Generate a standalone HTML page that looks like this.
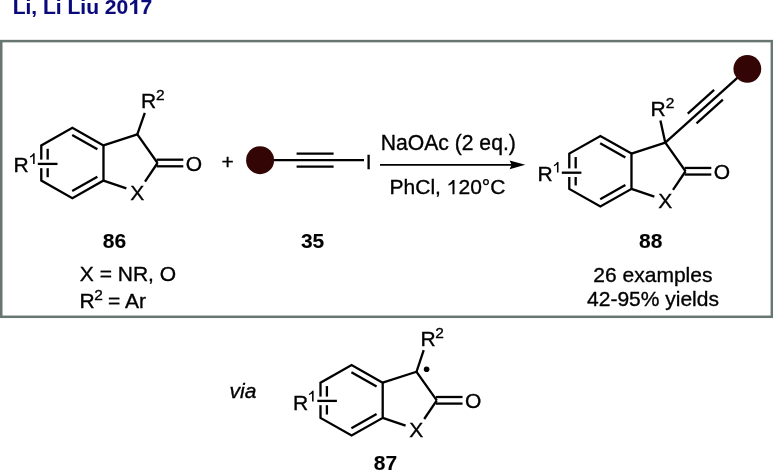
<!DOCTYPE html>
<html><head><meta charset="utf-8"><style>
html,body{margin:0;padding:0;background:#fff;}
body{width:773px;height:471px;overflow:hidden;}
#wrap{will-change:transform;}
svg{display:block;font-family:"Liberation Sans",sans-serif;}
</style></head><body>
<div id="wrap"><svg width="773" height="471" viewBox="0 0 773 471">
<text x="12.70" y="14.05" font-size="21" text-anchor="start" font-weight="bold" font-style="normal" fill="#0a0a7c" stroke="#0a0a7c" stroke-width="0.1">Li, Li Liu 20</text>
<path d="M137.30,-0.60 L137.30,14.05 L134.20,14.05 L134.20,2.92 C133.30,4.23 131.00,4.82 130.00,5.41 L130.00,3.50 C131.50,2.62 133.60,1.16 134.30,-0.60 Z" fill="#0a0a7c"/>
<text x="140.40" y="14.05" font-size="21" text-anchor="start" font-weight="bold" font-style="normal" fill="#0a0a7c" stroke="#0a0a7c" stroke-width="0.1">7</text>
<rect x="1.25" y="41.1" width="770.6" height="275.7" fill="none" stroke="#687672" stroke-width="2.5"/>
<path d="M103.48,145.38 L72.38,127.75 L41.28,145.38 L41.28,180.62 L72.38,198.25 L103.48,180.62 Z" fill="none" stroke="#000" stroke-width="2.3" stroke-linejoin="miter"/>
<line x1="72.18" y1="134.99" x2="97.37" y2="149.27" stroke="#000" stroke-width="2.3" stroke-linecap="butt"/>
<line x1="72.18" y1="191.01" x2="97.37" y2="176.73" stroke="#000" stroke-width="2.3" stroke-linecap="butt"/>
<line x1="47.68" y1="148.78" x2="47.68" y2="177.22" stroke="#000" stroke-width="2.3" stroke-linecap="butt"/>
<path d="M103.48,145.38 L137.30,134.45 L157.55,163.00" fill="none" stroke="#000" stroke-width="2.3" stroke-linejoin="miter"/>
<line x1="157.55" y1="163.00" x2="145.00" y2="181.70" stroke="#000" stroke-width="2.3" stroke-linecap="butt"/>
<line x1="103.48" y1="180.62" x2="126.36" y2="188.30" stroke="#000" stroke-width="2.3" stroke-linecap="butt"/>
<line x1="156.65" y1="159.70" x2="183.30" y2="159.70" stroke="#000" stroke-width="2.3" stroke-linecap="butt"/>
<line x1="156.65" y1="166.30" x2="183.30" y2="166.30" stroke="#000" stroke-width="2.3" stroke-linecap="butt"/>
<text x="193.85" y="171.10" font-size="21" text-anchor="middle" font-weight="normal" font-style="normal" fill="#000" stroke="#000" stroke-width="0.35">O</text>
<text x="137.15" y="199.70" font-size="21" text-anchor="middle" font-weight="normal" font-style="normal" fill="#000" stroke="#000" stroke-width="0.35">X</text>
<line x1="37.80" y1="163.90" x2="57.50" y2="163.90" stroke="#fff" stroke-width="8.6" stroke-linecap="butt"/>
<line x1="37.80" y1="163.90" x2="57.50" y2="163.90" stroke="#000" stroke-width="2.3" stroke-linecap="butt"/>
<text x="13.40" y="172.40" font-size="21" text-anchor="start" font-weight="normal" font-style="normal" fill="#000" stroke="#000" stroke-width="0.35">R</text>
<path d="M34.65,153.20 L34.65,164.10 L33.10,164.10 L33.10,155.82 C32.20,156.80 31.05,157.23 30.05,157.67 L30.05,156.25 C31.55,155.60 32.50,154.51 33.20,153.20 Z" fill="#000"/>
<line x1="137.30" y1="134.45" x2="144.80" y2="112.90" stroke="#000" stroke-width="2.3" stroke-linecap="butt"/>
<text x="140.90" y="108.20" font-size="21" text-anchor="start" font-weight="normal" font-style="normal" fill="#000" stroke="#000" stroke-width="0.35">R</text>
<text x="156.00" y="99.80" font-size="15.5" text-anchor="start" font-weight="normal" font-style="normal" fill="#000" stroke="#000" stroke-width="0.35">2</text>
<text x="221.50" y="168.80" font-size="21" text-anchor="start" font-weight="normal" font-style="normal" fill="#000" stroke="#000" stroke-width="0.35">+</text>
<circle cx="260.10" cy="160.20" r="14" fill="#330505"/>
<line x1="274.00" y1="160.20" x2="364.00" y2="160.20" stroke="#000" stroke-width="2.3" stroke-linecap="butt"/>
<line x1="296.60" y1="153.70" x2="333.60" y2="153.70" stroke="#000" stroke-width="2.3" stroke-linecap="butt"/>
<line x1="296.60" y1="166.70" x2="333.60" y2="166.70" stroke="#000" stroke-width="2.3" stroke-linecap="butt"/>
<text x="368.70" y="168.50" font-size="21" text-anchor="middle" font-weight="normal" font-style="normal" fill="#000" stroke="#000" stroke-width="0.35">I</text>
<line x1="380.00" y1="164.85" x2="512.00" y2="164.85" stroke="#000" stroke-width="1.9" stroke-linecap="butt"/>
<path d="M525.3,164.85 L509.6,160.5 L511.6,164.85 L509.6,169.2 Z" fill="#000"/>
<text x="380.70" y="149.70" font-size="21.15" text-anchor="start" font-weight="normal" font-style="normal" fill="#000" stroke="#000" stroke-width="0.35">NaOAc (2 eq.)</text>
<text x="389.60" y="194.20" font-size="21" text-anchor="start" font-weight="normal" font-style="normal" fill="#000" stroke="#000" stroke-width="0.35">PhCl,</text>
<path d="M454.50,179.90 L454.50,194.35 L452.50,194.35 L452.50,183.37 C451.60,184.67 449.50,185.25 448.50,185.82 L448.50,183.95 C450.00,183.08 451.90,181.63 452.60,179.90 Z" fill="#000"/>
<text x="458.47" y="194.20" font-size="21" text-anchor="start" font-weight="normal" font-style="normal" fill="#000" stroke="#000" stroke-width="0.35">20°C</text>
<path d="M631.48,153.62 L600.38,136.00 L569.28,153.62 L569.28,188.88 L600.38,206.50 L631.48,188.88 Z" fill="none" stroke="#000" stroke-width="2.3" stroke-linejoin="miter"/>
<line x1="600.18" y1="143.24" x2="625.37" y2="157.52" stroke="#000" stroke-width="2.3" stroke-linecap="butt"/>
<line x1="600.18" y1="199.26" x2="625.37" y2="184.98" stroke="#000" stroke-width="2.3" stroke-linecap="butt"/>
<line x1="575.68" y1="157.03" x2="575.68" y2="185.47" stroke="#000" stroke-width="2.3" stroke-linecap="butt"/>
<path d="M631.48,153.62 L665.30,142.70 L685.55,171.25" fill="none" stroke="#000" stroke-width="2.3" stroke-linejoin="miter"/>
<line x1="685.55" y1="171.25" x2="673.00" y2="189.95" stroke="#000" stroke-width="2.3" stroke-linecap="butt"/>
<line x1="631.48" y1="188.88" x2="654.36" y2="196.55" stroke="#000" stroke-width="2.3" stroke-linecap="butt"/>
<line x1="684.65" y1="167.95" x2="711.30" y2="167.95" stroke="#000" stroke-width="2.3" stroke-linecap="butt"/>
<line x1="684.65" y1="174.55" x2="711.30" y2="174.55" stroke="#000" stroke-width="2.3" stroke-linecap="butt"/>
<text x="721.85" y="179.35" font-size="21" text-anchor="middle" font-weight="normal" font-style="normal" fill="#000" stroke="#000" stroke-width="0.35">O</text>
<text x="665.15" y="207.95" font-size="21" text-anchor="middle" font-weight="normal" font-style="normal" fill="#000" stroke="#000" stroke-width="0.35">X</text>
<line x1="561.80" y1="172.70" x2="581.40" y2="172.70" stroke="#fff" stroke-width="8.6" stroke-linecap="butt"/>
<line x1="561.80" y1="172.70" x2="581.40" y2="172.70" stroke="#000" stroke-width="2.3" stroke-linecap="butt"/>
<text x="537.50" y="181.10" font-size="21" text-anchor="start" font-weight="normal" font-style="normal" fill="#000" stroke="#000" stroke-width="0.35">R</text>
<path d="M558.50,161.90 L558.50,172.55 L556.95,172.55 L556.95,164.46 C556.05,165.41 554.90,165.84 553.90,166.27 L553.90,164.88 C555.40,164.24 556.35,163.18 557.05,161.90 Z" fill="#000"/>
<line x1="665.30" y1="142.70" x2="660.40" y2="120.60" stroke="#000" stroke-width="2.3" stroke-linecap="butt"/>
<text x="650.40" y="116.00" font-size="21" text-anchor="start" font-weight="normal" font-style="normal" fill="#000" stroke="#000" stroke-width="0.35">R</text>
<text x="665.80" y="108.30" font-size="15.5" text-anchor="start" font-weight="normal" font-style="normal" fill="#000" stroke="#000" stroke-width="0.35">2</text>
<line x1="665.30" y1="142.70" x2="747.34" y2="68.83" stroke="#000" stroke-width="2.3" stroke-linecap="butt"/>
<line x1="687.74" y1="113.68" x2="714.13" y2="89.92" stroke="#000" stroke-width="2.3" stroke-linecap="butt"/>
<line x1="696.51" y1="123.41" x2="722.89" y2="99.66" stroke="#000" stroke-width="2.3" stroke-linecap="butt"/>
<circle cx="747.34" cy="68.83" r="13.9" fill="#330505"/>
<text x="114.55" y="248.40" font-size="21" text-anchor="middle" font-weight="bold" font-style="normal" fill="#000" stroke="#000" stroke-width="0.1">86</text>
<text x="312.60" y="248.40" font-size="21" text-anchor="middle" font-weight="bold" font-style="normal" fill="#000" stroke="#000" stroke-width="0.1">35</text>
<text x="650.65" y="248.40" font-size="21" text-anchor="middle" font-weight="bold" font-style="normal" fill="#000" stroke="#000" stroke-width="0.1">88</text>
<text x="79.80" y="281.20" font-size="21" text-anchor="start" font-weight="normal" font-style="normal" fill="#000" stroke="#000" stroke-width="0.35">X = NR, O</text>
<text x="79.40" y="307.70" font-size="21" text-anchor="start" font-weight="normal" font-style="normal" fill="#000" stroke="#000" stroke-width="0.35">R</text>
<text x="94.30" y="299.60" font-size="15.5" text-anchor="start" font-weight="normal" font-style="normal" fill="#000" stroke="#000" stroke-width="0.35">2</text>
<text x="108.00" y="307.70" font-size="21" text-anchor="start" font-weight="normal" font-style="normal" fill="#000" stroke="#000" stroke-width="0.35">= Ar</text>
<text x="652.90" y="281.50" font-size="21" text-anchor="middle" font-weight="normal" font-style="normal" fill="#000" stroke="#000" stroke-width="0.35">26 examples</text>
<text x="653.00" y="305.90" font-size="21" text-anchor="middle" font-weight="normal" font-style="normal" fill="#000" stroke="#000" stroke-width="0.35">42-95% yields</text>
<path d="M382.70,382.68 L351.60,365.05 L320.50,382.68 L320.50,417.93 L351.60,435.55 L382.70,417.93 Z" fill="none" stroke="#000" stroke-width="2.3" stroke-linejoin="miter"/>
<line x1="351.40" y1="372.29" x2="376.59" y2="386.57" stroke="#000" stroke-width="2.3" stroke-linecap="butt"/>
<line x1="351.40" y1="428.31" x2="376.59" y2="414.03" stroke="#000" stroke-width="2.3" stroke-linecap="butt"/>
<line x1="326.90" y1="386.07" x2="326.90" y2="414.53" stroke="#000" stroke-width="2.3" stroke-linecap="butt"/>
<path d="M382.70,382.68 L416.52,371.75 L436.77,400.30" fill="none" stroke="#000" stroke-width="2.3" stroke-linejoin="miter"/>
<line x1="436.77" y1="400.30" x2="424.22" y2="419.00" stroke="#000" stroke-width="2.3" stroke-linecap="butt"/>
<line x1="382.70" y1="417.93" x2="405.58" y2="425.60" stroke="#000" stroke-width="2.3" stroke-linecap="butt"/>
<line x1="435.87" y1="397.00" x2="462.52" y2="397.00" stroke="#000" stroke-width="2.3" stroke-linecap="butt"/>
<line x1="435.87" y1="403.60" x2="462.52" y2="403.60" stroke="#000" stroke-width="2.3" stroke-linecap="butt"/>
<text x="473.07" y="408.40" font-size="21" text-anchor="middle" font-weight="normal" font-style="normal" fill="#000" stroke="#000" stroke-width="0.35">O</text>
<text x="416.37" y="437.00" font-size="21" text-anchor="middle" font-weight="normal" font-style="normal" fill="#000" stroke="#000" stroke-width="0.35">X</text>
<line x1="317.30" y1="400.90" x2="336.90" y2="400.90" stroke="#fff" stroke-width="8.6" stroke-linecap="butt"/>
<line x1="317.30" y1="400.90" x2="336.90" y2="400.90" stroke="#000" stroke-width="2.3" stroke-linecap="butt"/>
<text x="292.90" y="409.60" font-size="21" text-anchor="start" font-weight="normal" font-style="normal" fill="#000" stroke="#000" stroke-width="0.35">R</text>
<path d="M313.60,390.70 L313.60,401.40 L312.05,401.40 L312.05,393.27 C311.15,394.23 310.00,394.66 309.00,395.09 L309.00,393.70 C310.50,393.05 311.45,391.98 312.15,390.70 Z" fill="#000"/>
<line x1="416.52" y1="371.75" x2="423.70" y2="350.10" stroke="#000" stroke-width="2.3" stroke-linecap="butt"/>
<text x="420.40" y="345.90" font-size="21" text-anchor="start" font-weight="normal" font-style="normal" fill="#000" stroke="#000" stroke-width="0.35">R</text>
<text x="435.20" y="337.50" font-size="15.5" text-anchor="start" font-weight="normal" font-style="normal" fill="#000" stroke="#000" stroke-width="0.35">2</text>
<circle cx="426.60" cy="369.20" r="2.8" fill="#000"/>
<text x="229.50" y="398.20" font-size="21" text-anchor="start" font-weight="normal" font-style="italic" fill="#000" stroke="#000" stroke-width="0.35">via</text>
<text x="385.55" y="469.60" font-size="21" text-anchor="middle" font-weight="bold" font-style="normal" fill="#000" stroke="#000" stroke-width="0.1">87</text>
</svg></div>
</body></html>
